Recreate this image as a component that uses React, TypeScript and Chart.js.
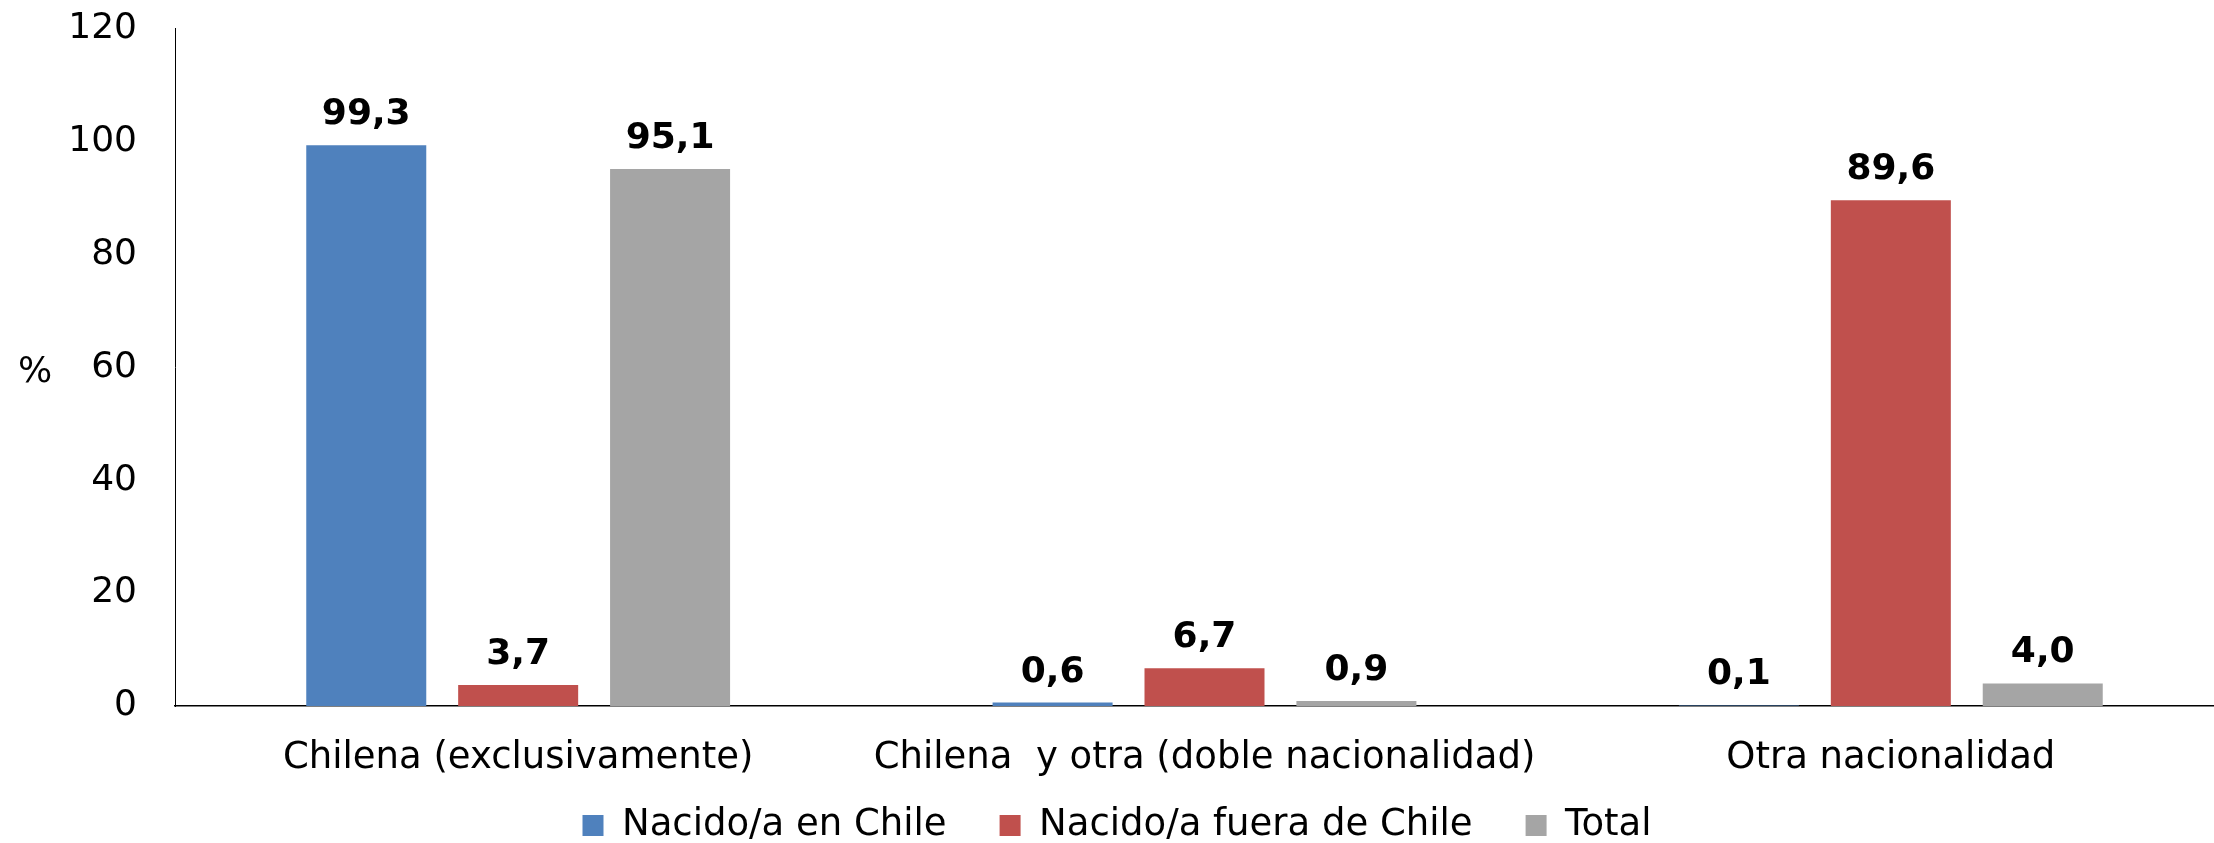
import React, { useEffect, useRef } from "react";
import { Chart, registerables } from "chart.js";

Chart.register(...registerables);

const categories = [
  "Chilena (exclusivamente)",
  "Chilena  y otra (doble nacionalidad)",
  "Otra nacionalidad",
];
const seriesNames = ["Nacido/a en Chile", "Nacido/a fuera de Chile", "Total"];
const nacidoEnChile = [99.3, 0.6, 0.1];
const nacidoFueraChile = [3.7, 6.7, 89.6];
const total = [95.1, 0.9, 4.0];
const seriesColors = ["#4F81BD", "#C0504D", "#A5A5A5"];
const yTicks = [0, 20, 40, 60, 80, 100, 120];
const yAxisTitle = "%";

const FONT = "Verdana, 'DejaVu Sans', sans-serif";

const valueLabels = {
  id: "valueLabels",
  afterDatasetsDraw(chart: any) {
    const ctx = chart.ctx;
    ctx.save();
    ctx.font = `bold 36px ${FONT}`;
    ctx.fillStyle = "#000";
    ctx.textAlign = "center";
    ctx.textBaseline = "alphabetic";
    chart.data.datasets.forEach((ds: any, i: number) => {
      const meta = chart.getDatasetMeta(i);
      meta.data.forEach((el: any, j: number) => {
        const v = ds.data[j] as number;
        ctx.fillText(v.toFixed(1).replace(".", ","), el.x, el.y - 21);
      });
    });
    ctx.restore();
  },
};

const percentTitle = {
  id: "percentTitle",
  afterDraw(chart: any) {
    const ctx = chart.ctx;
    const a = chart.chartArea;
    ctx.save();
    ctx.font = `36px ${FONT}`;
    ctx.fillStyle = "#000";
    ctx.textAlign = "center";
    ctx.textBaseline = "middle";
    ctx.fillText(yAxisTitle, 35, (a.top + a.bottom) / 2 + 5);
    ctx.restore();
  },
};

export default function App() {
  const ref = useRef<HTMLCanvasElement | null>(null);
  useEffect(() => {
    if (!ref.current) return;
    const values = [nacidoEnChile, nacidoFueraChile, total];
    const chart: any = new Chart(ref.current, {
      type: "bar",
      data: {
        labels: categories,
        datasets: seriesNames.map((name, i) => ({
          label: name,
          data: values[i],
          backgroundColor: seriesColors[i],
          borderWidth: 0,
          categoryPercentage: 0.664,
          barPercentage: 0.79,
        })),
      },
      options: {
        animation: false,
        responsive: false,
        devicePixelRatio: 1,
        layout: { padding: 0 },
        plugins: {
          legend: {
            position: "bottom",
            labels: {
              boxWidth: 21,
              boxHeight: 21,
              padding: 53,
              color: "#000",
              font: { family: FONT, size: 37 },
            },
          },
          tooltip: { enabled: false },
        },
        scales: {
          x: {
            grid: { display: false, drawTicks: false },
            border: { display: true, color: "#000", width: 1.5 },
            ticks: {
              color: "#000",
              font: { family: FONT, size: 37 },
              mirror: true,
              padding: -75,
              maxRotation: 0,
              autoSkip: false,
            },
            afterFit: (s: any) => {
              s.height = 48;
            },
          },
          y: {
            min: 0,
            max: 120,
            grid: { display: false, drawTicks: false },
            border: { display: true, color: "#000", width: 1 },
            afterBuildTicks: (s: any) => {
              s.ticks = yTicks.map((v) => ({ value: v }));
            },
            ticks: {
              color: "#000",
              font: { family: FONT, size: 36 },
              padding: 38,
            },
            afterFit: (s: any) => {
              s.width = 175;
              s.paddingTop = 28.5;
              s.paddingBottom = 0;
            },
          },
        },
      },
      plugins: [valueLabels, percentTitle],
    });
    return () => chart.destroy();
  }, []);
  return (
    <div
      style={{
        position: "fixed",
        left: 0,
        top: 0,
        width: 2214,
        height: 843,
        overflow: "hidden",
        background: "#fff",
      }}
    >
      <canvas
        ref={ref}
        width={2234}
        height={854}
        style={{ display: "block", width: 2234, height: 854 }}
      />
    </div>
  );
}
